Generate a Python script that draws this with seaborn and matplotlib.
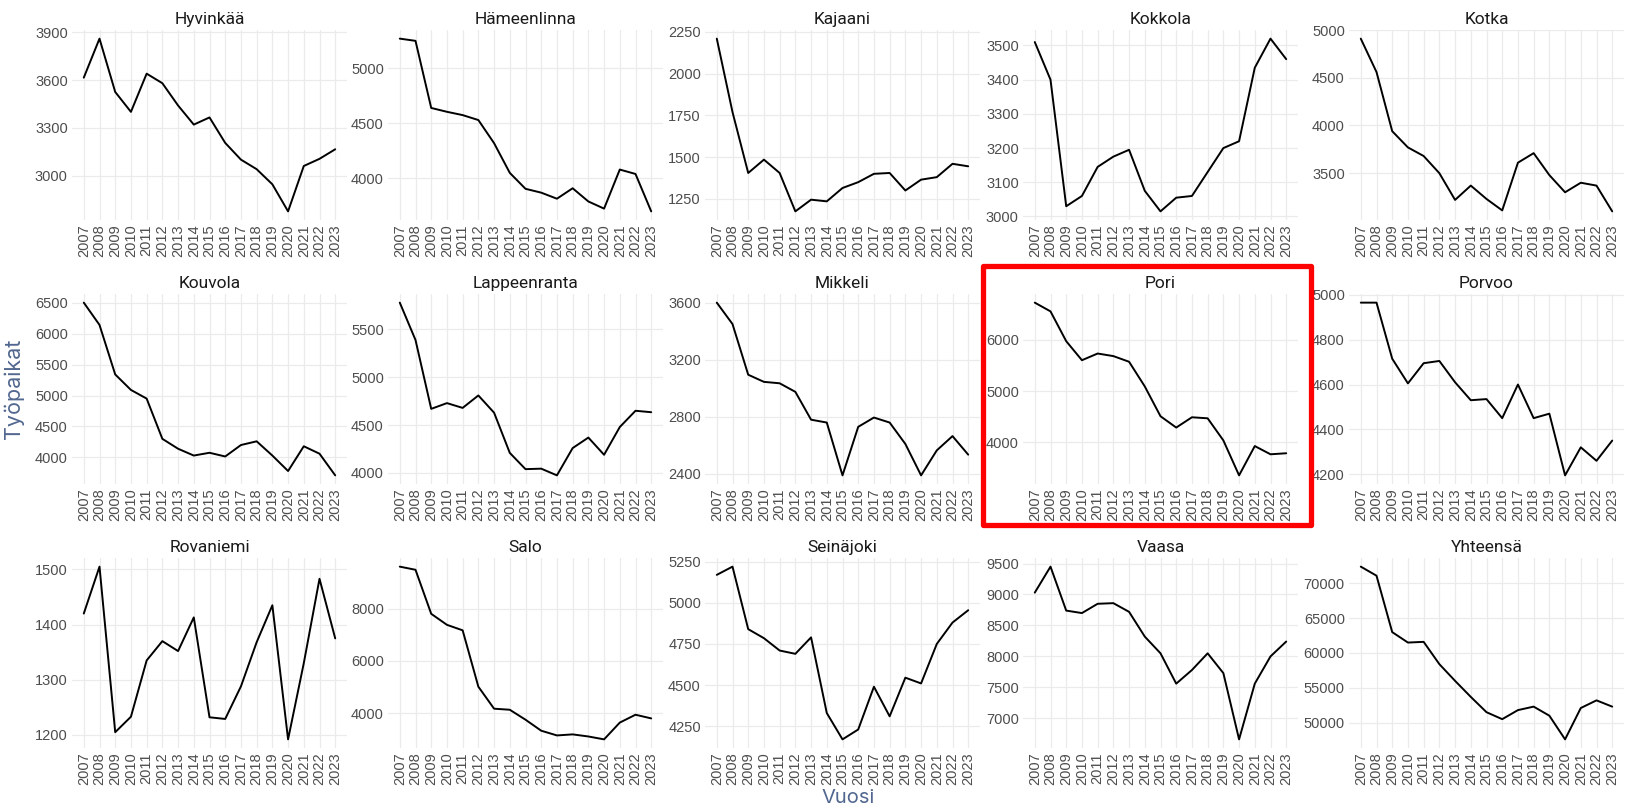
import numpy as np
import pandas as pd
import matplotlib
matplotlib.use("Agg")
import matplotlib.pyplot as plt
import seaborn as sns
from matplotlib.patches import Rectangle

# --- data ---
years = list(range(2007, 2024))

cities = [
    "Hyvinkää", "Hämeenlinna", "Kajaani", "Kokkola", "Kotka",
    "Kouvola", "Lappeenranta", "Mikkeli", "Pori", "Porvoo",
    "Rovaniemi", "Salo", "Seinäjoki", "Vaasa", "Yhteensä",
]

hyvinkaa = [3615, 3860, 3525, 3400, 3640, 3580, 3440, 3320, 3365, 3205, 3100, 3040, 2945, 2775, 3060, 3105, 3165]
hameenlinna = [5270, 5250, 4640, 4605, 4575, 4530, 4320, 4050, 3905, 3870, 3815, 3910, 3790, 3725, 4080, 4040, 3700]
kajaani = [2210, 1770, 1405, 1485, 1405, 1175, 1245, 1235, 1315, 1350, 1400, 1405, 1300, 1365, 1380, 1460, 1445]
kokkola = [3510, 3400, 3030, 3060, 3145, 3175, 3195, 3075, 3015, 3055, 3060, 3130, 3200, 3220, 3435, 3520, 3460]
kotka = [4910, 4560, 3940, 3770, 3680, 3500, 3220, 3370, 3230, 3110, 3610, 3710, 3480, 3300, 3400, 3370, 3100]
kouvola = [6500, 6140, 5340, 5090, 4950, 4300, 4140, 4030, 4075, 4015, 4200, 4260, 4030, 3780, 4180, 4060, 3710]
lappeenranta = [5780, 5390, 4670, 4730, 4680, 4810, 4630, 4210, 4040, 4045, 3975, 4260, 4370, 4190, 4480, 4650, 4635]
mikkeli = [3600, 3450, 3095, 3045, 3035, 2975, 2780, 2760, 2390, 2730, 2795, 2760, 2610, 2390, 2565, 2665, 2535]
pori = [6720, 6550, 5970, 5600, 5730, 5680, 5570, 5090, 4510, 4290, 4490, 4470, 4040, 3360, 3930, 3770, 3790]
porvoo = [4965, 4965, 4715, 4605, 4695, 4705, 4610, 4530, 4535, 4450, 4600, 4450, 4470, 4195, 4320, 4260, 4350]
rovaniemi = [1420, 1505, 1205, 1233, 1335, 1370, 1352, 1413, 1232, 1229, 1288, 1368, 1435, 1192, 1330, 1483, 1375]
salo = [9600, 9480, 7800, 7380, 7170, 5020, 4180, 4140, 3760, 3340, 3160, 3200, 3120, 3010, 3650, 3950, 3810]
seinajoki = [5170, 5220, 4840, 4785, 4710, 4690, 4790, 4330, 4170, 4230, 4490, 4310, 4545, 4510, 4750, 4880, 4955]
vaasa = [9030, 9450, 8740, 8700, 8850, 8860, 8720, 8320, 8050, 7560, 7780, 8050, 7730, 6660, 7560, 8000, 8240]
yhteensa = [72400, 71100, 63000, 61500, 61600, 58400, 56000, 53700, 51500, 50500, 51800, 52300, 51000, 47600, 52100, 53200, 52300]

series = [hyvinkaa, hameenlinna, kajaani, kokkola, kotka, kouvola, lappeenranta,
          mikkeli, pori, porvoo, rovaniemi, salo, seinajoki, vaasa, yhteensa]

# y breaks per panel, as shown in the reference
yticks = {
    "Hyvinkää": [3000, 3300, 3600, 3900],
    "Hämeenlinna": [4000, 4500, 5000],
    "Kajaani": [1250, 1500, 1750, 2000, 2250],
    "Kokkola": [3000, 3100, 3200, 3300, 3400, 3500],
    "Kotka": [3500, 4000, 4500, 5000],
    "Kouvola": [4000, 4500, 5000, 5500, 6000, 6500],
    "Lappeenranta": [4000, 4500, 5000, 5500],
    "Mikkeli": [2400, 2800, 3200, 3600],
    "Pori": [4000, 5000, 6000],
    "Porvoo": [4200, 4400, 4600, 4800, 5000],
    "Rovaniemi": [1200, 1300, 1400, 1500],
    "Salo": [4000, 6000, 8000],
    "Seinäjoki": [4250, 4500, 4750, 5000, 5250],
    "Vaasa": [7000, 7500, 8000, 8500, 9000, 9500],
    "Yhteensä": [50000, 55000, 60000, 65000, 70000],
}

highlight = "Pori"

df = pd.DataFrame({
    "Kunta": np.repeat(cities, len(years)),
    "Vuosi": years * len(cities),
    "Työpaikat": np.concatenate(series),
})

# --- plotting ---
sns.set_theme(style="white")
plt.rcParams["font.family"] = ["Liberation Sans", "DejaVu Sans"]

W, H = 1625, 807
g = sns.relplot(
    data=df, x="Vuosi", y="Työpaikat", col="Kunta", col_wrap=5,
    kind="line", color="black", linewidth=1.4,
    facet_kws=dict(sharey=False, sharex=False),
    height=2, aspect=1.4,
)
fig = g.figure
fig.set_size_inches(W / 100, H / 100)
g.set_titles("{col_name}", size=12.5, color="#1a1a1a", family="Roboto", pad=4)
g.set_axis_labels("", "")

# panel layout in pixels
col_left = [72, 388, 705, 1023, 1349]
row_top = [30, 294, 558]
pw, ph = 275, 190

grid_col = "#ebebeb"
for i, (name, ax) in enumerate(g.axes_dict.items()):
    r, c = divmod(i, 5)
    ax.set_position([col_left[c] / W, 1 - (row_top[r] + ph) / H, pw / W, ph / H])
    vals = np.array(series[cities.index(name)])
    lo, hi = vals.min(), vals.max()
    pad = (hi - lo) * 0.05
    ax.set_ylim(lo - pad, hi + pad)
    ax.set_xlim(years[0] - 0.75, years[-1] + 0.75)
    ax.set_xticks(years)
    ax.set_xticklabels([str(y) for y in years], rotation=90)
    ax.set_yticks(yticks[name])
    ax.tick_params(axis="both", length=0, labelsize=10.5, labelcolor="#4d4d4d", pad=3)
    ax.grid(True, color=grid_col, linewidth=0.9)
    ax.set_axisbelow(True)
    for s in ax.spines.values():
        s.set_visible(False)

    if name == highlight:
        x0 = col_left[c] - 40
        y0 = row_top[r] - 28
        rect = Rectangle(
            (x0 / W, 1 - (y0 + 259) / H), 328 / W, 259 / H,
            transform=fig.transFigure, fill=False, edgecolor="#ff0000",
            linewidth=3.8, joinstyle="round", zorder=10,
        )
        fig.add_artist(rect)

axis_col = "#51678f"
mid_x = (col_left[0] + col_left[-1] + pw) / 2
mid_y = (row_top[0] + row_top[-1] + ph) / 2
fig.text(mid_x / W, 1 - 798 / H, "Vuosi", ha="center", va="center",
         fontsize=14.5, color=axis_col, family="Inter")
fig.text(14 / W, 1 - mid_y / H, "Työpaikat", ha="center", va="center",
         rotation=90, fontsize=15.5, color=axis_col, family="Inter")

fig.savefig("out.png", dpi=100, facecolor="white")
